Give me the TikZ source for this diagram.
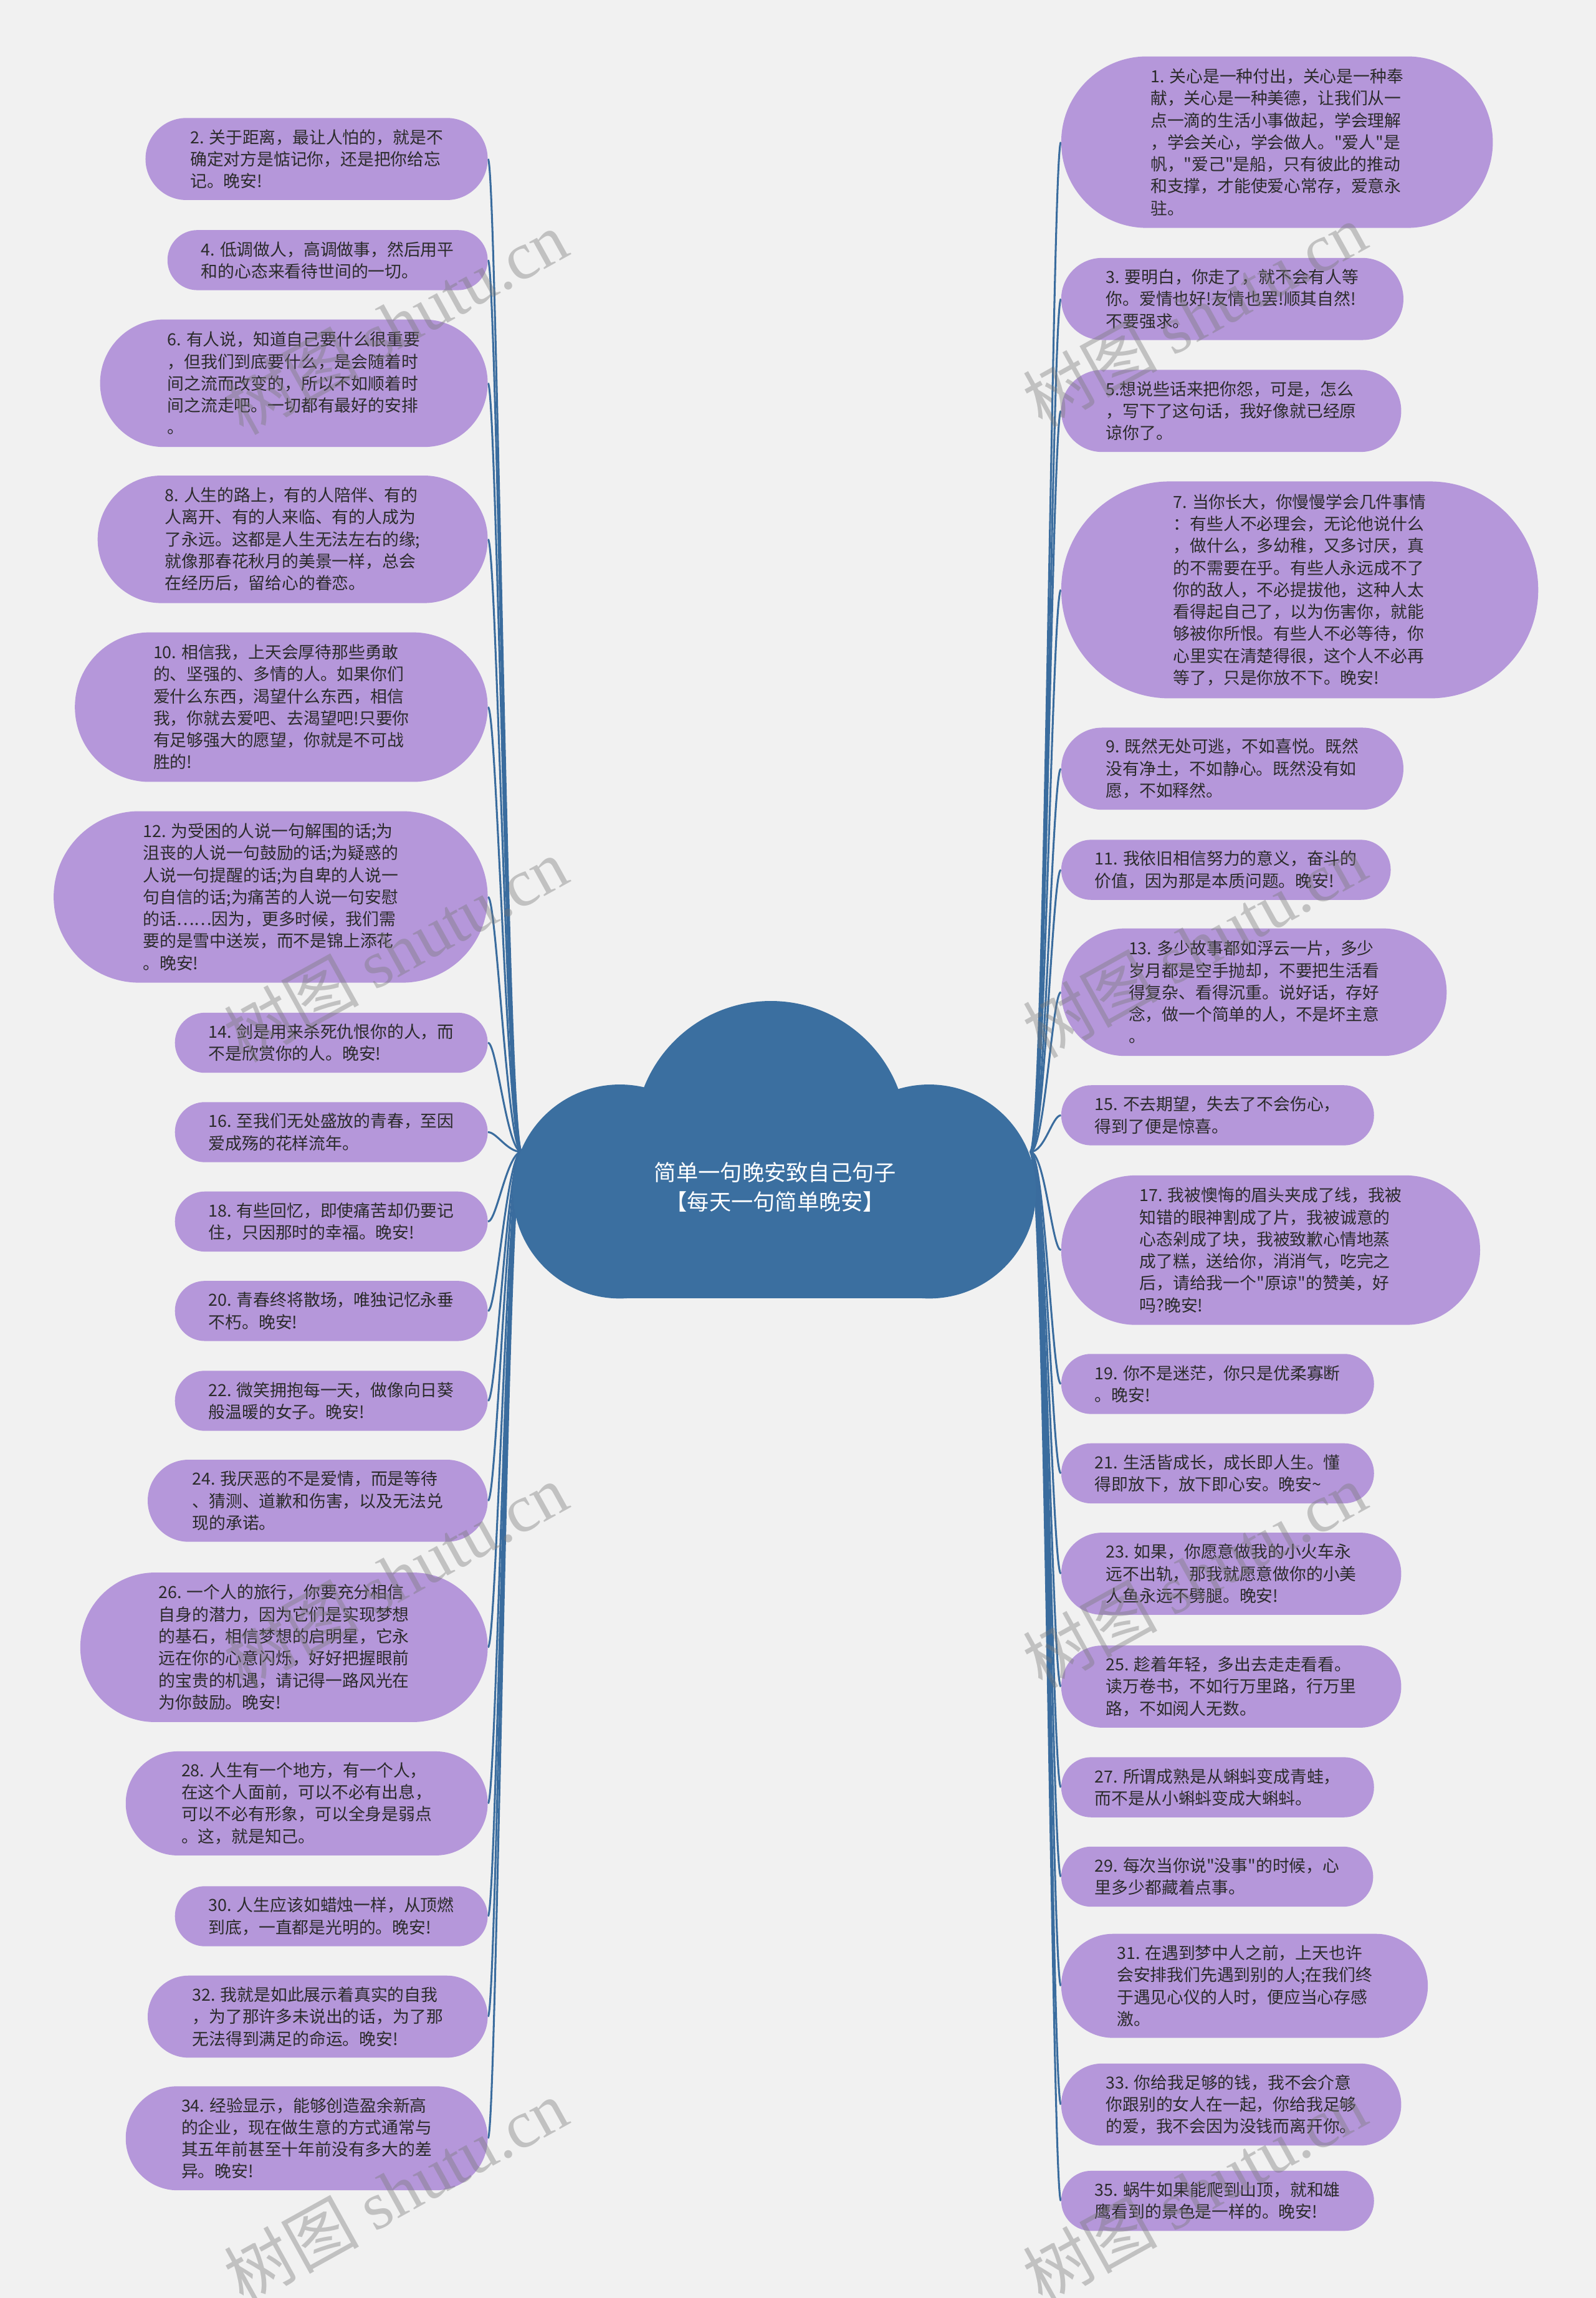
\documentclass[tikz,border=0pt]{standalone}
\usepackage{fontspec}
\setmainfont{Noto Sans CJK SC}
\newfontfamily\cjkfont{Noto Sans CJK SC}
\newfontfamily\wmserif{Liberation Serif}
\usetikzlibrary{backgrounds}
\definecolor{bgc}{HTML}{F1F1F1}
\definecolor{leafc}{HTML}{B597DA}
\definecolor{txtc}{HTML}{2B2B2B}
\definecolor{linec}{HTML}{3A6C9E}
\definecolor{cloudc}{HTML}{3B6FA0}
\definecolor{wmc}{HTML}{7A7A7A}
\begin{document}
\begin{tikzpicture}[x=1pt,y=-1pt,
  leaf/.style={rectangle, fill=leafc, text=txtc, align=left,
    inner ysep=2pt, font=\cjkfont\fontsize{11.4pt}{15pt}\selectfont},
  h2/.style={minimum height=41pt, inner xsep=23pt, rounded corners=20.4pt},
  h3/.style={minimum height=56pt, inner xsep=30.5pt, rounded corners=27.9pt},
  h4/.style={minimum height=71pt, inner xsep=38pt, rounded corners=35.4pt},
  h5/.style={minimum height=87pt, inner xsep=46pt, rounded corners=43.4pt},
  h6/.style={minimum height=102pt, inner xsep=53.5pt, rounded corners=50.9pt},
  h7/.style={minimum height=117pt, inner xsep=61pt, rounded corners=58.4pt},
  h9/.style={minimum height=148pt, inner xsep=76.5pt, rounded corners=73.9pt},
  lnode/.style={leaf, anchor=east}, rnode/.style={leaf, anchor=west},
  conn/.style={draw=linec, line width=1.3pt},
  cloudpart/.style={fill=cloudc, draw=none},
  roottext/.style={text=white, align=center, font=\cjkfont\fontsize{15pt}{20pt}\selectfont},
  wm/.style={text=wmc, opacity=0.4, rotate=29, font=\cjkfont\fontsize{46pt}{50pt}\selectfont}
]
\useasboundingbox (0,0) rectangle (1089,1568);
% cloud
\fill[cloudpart] (526,776) circle[radius=93];
\fill[cloudpart] (423,813) circle[radius=73];
\fill[cloudpart] (634,813) circle[radius=73];
\fill[cloudpart] (423,780) rectangle (634,886);
\node[roottext] (root) at (529,810) {简单一句晚安致自己句子\\【每天一句简单晚安】};
\coordinate (rootL) at (356,786);
\coordinate (rootR) at (703,786);

% left nodes
\node[lnode,h3] (n2) at (333,108.5) {2. 关于距离，最让人怕的，就是不\\确定对方是惦记你，还是把你给忘\\记。晚安!};
\node[lnode,h2] (n4) at (333,177.5) {4. 低调做人，高调做事，然后用平\\和的心态来看待世间的一切。};
\node[lnode,h5] (n6) at (333,261.5) {6. 有人说，知道自己要什么很重要\\，但我们到底要什么，是会随着时\\间之流而改变的，所以不如顺着时\\间之流走吧。一切都有最好的安排\\。};
\node[lnode,h5] (n8) at (333,368) {8. 人生的路上，有的人陪伴、有的\\人离开、有的人来临、有的人成为\\了永远。这都是人生无法左右的缘;\\就像那春花秋月的美景一样，总会\\在经历后，留给心的眷恋。};
\node[lnode,h6] (n10) at (333,482.5) {10. 相信我，上天会厚待那些勇敢\\的、坚强的、多情的人。如果你们\\爱什么东西，渴望什么东西，相信\\我，你就去爱吧、去渴望吧!只要你\\有足够强大的愿望，你就是不可战\\胜的!};
\node[lnode,h7] (n12) at (333,612) {12. 为受困的人说一句解围的话;为\\沮丧的人说一句鼓励的话;为疑惑的\\人说一句提醒的话;为自卑的人说一\\句自信的话;为痛苦的人说一句安慰\\的话……因为，更多时候，我们需\\要的是雪中送炭，而不是锦上添花\\。晚安!};
\node[lnode,h2] (n14) at (333,711.5) {14. 剑是用来杀死仇恨你的人，而\\不是欣赏你的人。晚安!};
\node[lnode,h2] (n16) at (333,772.5) {16. 至我们无处盛放的青春，至因\\爱成殇的花样流年。};
\node[lnode,h2] (n18) at (333,833.5) {18. 有些回忆，即使痛苦却仍要记\\住，只因那时的幸福。晚安!};
\node[lnode,h2] (n20) at (333,894.5) {20. 青春终将散场，唯独记忆永垂\\不朽。晚安!};
\node[lnode,h2] (n22) at (333,955.8) {22. 微笑拥抱每一天，做像向日葵\\般温暖的女子。晚安!};
\node[lnode,h3] (n24) at (333,1024) {24. 我厌恶的不是爱情，而是等待\\、猜测、道歉和伤害，以及无法兑\\现的承诺。};
\node[lnode,h6] (n26) at (333,1124) {26. 一个人的旅行，你要充分相信\\自身的潜力，因为它们是实现梦想\\的基石，相信梦想的启明星，它永\\远在你的心意闪烁，好好把握眼前\\的宝贵的机遇，请记得一路风光在\\为你鼓励。晚安!};
\node[lnode,h4] (n28) at (333,1230.5) {28. 人生有一个地方，有一个人，\\在这个人面前，可以不必有出息，\\可以不必有形象，可以全身是弱点\\。这，就是知己。};
\node[lnode,h2] (n30) at (333,1307.5) {30. 人生应该如蜡烛一样，从顶燃\\到底，一直都是光明的。晚安!};
\node[lnode,h3] (n32) at (333,1376) {32. 我就是如此展示着真实的自我\\，为了那许多未说出的话，为了那\\无法得到满足的命运。晚安!};
\node[lnode,h4] (n34) at (333,1459) {34. 经验显示，能够创造盈余新高\\的企业，现在做生意的方式通常与\\其五年前甚至十年前没有多大的差\\异。晚安!};

% right nodes
\node[rnode,h7] (n1) at (724,97) {1. 关心是一种付出，关心是一种奉\\献，关心是一种美德，让我们从一\\点一滴的生活小事做起，学会理解\\，学会关心，学会做人。"爱人"是\\帆，"爱己"是船，只有彼此的推动\\和支撑，才能使爱心常存，爱意永\\驻。};
\node[rnode,h3] (n3) at (724,204) {3. 要明白，你走了，就不会有人等\\你。爱情也好!友情也罢!顺其自然!\\不要强求。};
\node[rnode,h3] (n5) at (724,280.4) {5.想说些话来把你怨，可是，怎么\\，写下了这句话，我好像就已经原\\谅你了。};
\node[rnode,h9] (n7) at (724,402.5) {7. 当你长大，你慢慢学会几件事情\\：有些人不必理会，无论他说什么\\，做什么，多幼稚，又多讨厌，真\\的不需要在乎。有些人永远成不了\\你的敌人，不必提拔他，这种人太\\看得起自己了，以为伤害你，就能\\够被你所恨。有些人不必等待，你\\心里实在清楚得很，这个人不必再\\等了，只是你放不下。晚安!};
\node[rnode,h3] (n9) at (724,524.5) {9. 既然无处可逃，不如喜悦。既然\\没有净土，不如静心。既然没有如\\愿，不如释然。};
\node[rnode,h2] (n11) at (724,593.5) {11. 我依旧相信努力的意义，奋斗的\\价值，因为那是本质问题。晚安!};
\node[rnode,h5] (n13) at (724,677) {13. 多少故事都如浮云一片，多少\\岁月都是空手抛却，不要把生活看\\得复杂、看得沉重。说好话，存好\\念，做一个简单的人，不是坏主意\\。};
\node[rnode,h2] (n15) at (724,761) {15. 不去期望，失去了不会伤心，\\得到了便是惊喜。};
\node[rnode,h6] (n17) at (724,853) {17. 我被懊悔的眉头夹成了线，我被\\知错的眼神割成了片，我被诚意的\\心态剁成了块，我被致歉心情地蒸\\成了糕，送给你，消消气，吃完之\\后，请给我一个"原谅"的赞美，好\\吗?晚安!};
\node[rnode,h2] (n19) at (724,944.3) {19. 你不是迷茫，你只是优柔寡断\\。晚安!};
\node[rnode,h2] (n21) at (724,1005.3) {21. 生活皆成长，成长即人生。懂\\得即放下，放下即心安。晚安\textasciitilde};
\node[rnode,h3] (n23) at (724,1073.8) {23. 如果，你愿意做我的小火车永\\远不出轨，那我就愿意做你的小美\\人鱼永远不劈腿。晚安!};
\node[rnode,h3] (n25) at (724,1150.8) {25. 趁着年轻，多出去走走看看。\\读万卷书，不如行万里路，行万里\\路，不如阅人无数。};
\node[rnode,h2] (n27) at (724,1219.5) {27. 所谓成熟是从蝌蚪变成青蛙，\\而不是从小蝌蚪变成大蝌蚪。};
\node[rnode,h2] (n29) at (724,1280.5) {29. 每次当你说"没事"的时候，心\\里多少都藏着点事。};
\node[rnode,h4] (n31) at (724,1355) {31. 在遇到梦中人之前，上天也许\\会安排我们先遇到别的人;在我们终\\于遇见心仪的人时，便应当心存感\\激。};
\node[rnode,h3] (n33) at (724,1436) {33. 你给我足够的钱，我不会介意\\你跟别的女人在一起，你给我足够\\的爱，我不会因为没钱而离开你。};
\node[rnode,h2] (n35) at (724,1501.7) {35. 蜗牛如果能爬到山顶，就和雄\\鹰看到的景色是一样的。晚安!};

\begin{pgfonlayer}{background}
\fill[bgc] (0,0) rectangle (1089,1568);
\foreach \n in {n2,n4,n6,n8,n10,n12,n14,n16,n18,n20,n22,n24,n26,n28,n30,n32,n34}
  \draw[conn] (rootL) .. controls +(-10,0) and +(6,0) .. (\n.east);
\foreach \n in {n1,n3,n5,n7,n9,n11,n13,n15,n17,n19,n21,n23,n25,n27,n29,n31,n33,n35}
  \draw[conn] (rootR) .. controls +(10,0) and +(-6,0) .. (\n.west);
\end{pgfonlayer}

% watermarks
\foreach \wx/\wy [count=\i] in {270/220,815/215,270/648,815/645,270/1075,815/1075,270/1495,815/1495}
  \node[wm] (wm\i) at (\wx,\wy) {树图 {\wmserif shutu.cn}};
\end{tikzpicture}
\end{document}
